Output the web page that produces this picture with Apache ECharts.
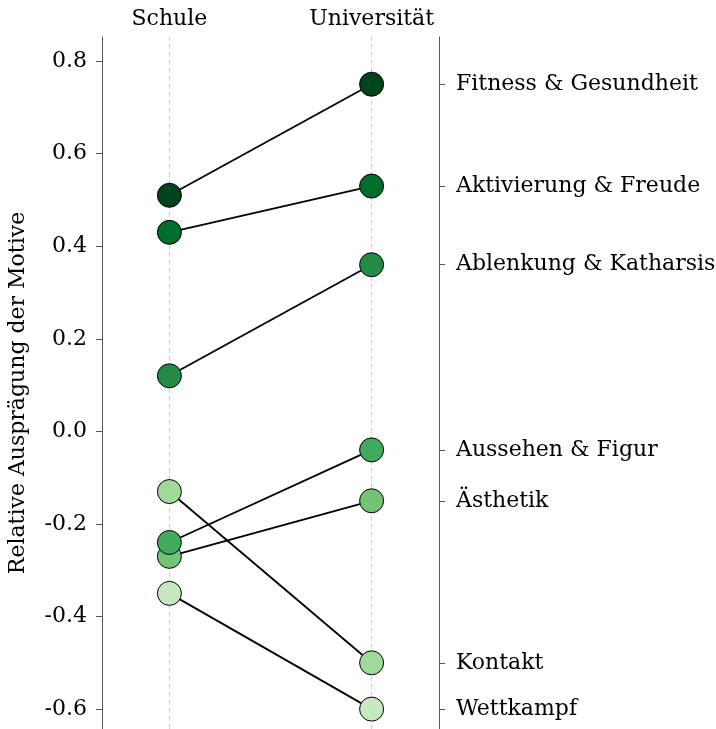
<!DOCTYPE html>
<html>
<head>
<meta charset="utf-8">
<script src="https://cdn.jsdelivr.net/npm/echarts@6/dist/echarts.min.js"></script>
<style>html,body{margin:0;padding:0;background:#fff}#c{width:716px;height:729px}</style>
</head>
<body>
<div id="c"></div>
<script>
const categories = ['Schule', 'Universität'];
const motives = ['Fitness & Gesundheit', 'Aktivierung & Freude', 'Ablenkung & Katharsis', 'Aussehen & Figur', 'Ästhetik', 'Kontakt', 'Wettkampf'];
const schuleValues = [0.51, 0.43, 0.12, -0.24, -0.27, -0.13, -0.35];
const uniValues = [0.75, 0.53, 0.36, -0.04, -0.15, -0.50, -0.60];
const yTicks = [-0.6, -0.4, -0.2, 0.0, 0.2, 0.4, 0.6, 0.8];
const yAxisTitle = 'Relative Ausprägung der Motive';

const palette = ['#00441b', '#006d2c', '#238b45', '#41ab5d', '#74c476', '#a1d99b', '#c7e9c0'];
const FONT = 'DejaVu Serif';
const FS = 22;

const chart = echarts.init(document.getElementById('c'), null, {renderer: 'canvas'});

const series = [];
for (let i = motives.length - 1; i >= 0; i--) {
  series.push({
    type: 'line',
    name: motives[i],
    data: [[0, schuleValues[i]], [1, uniValues[i]]],
    symbol: 'circle',
    symbolSize: 24,
    itemStyle: {color: palette[i], borderColor: '#000', borderWidth: 1},
    lineStyle: {color: '#000', width: 1.8},
    z: 3,
    animation: false
  });
}
series.push({
  type: 'line',
  data: [],
  z: 1,
  silent: true,
  markLine: {
    silent: true,
    z: 1,
    symbol: ['none', 'none'],
    label: {show: false},
    lineStyle: {color: '#cccccc', type: [5, 3], width: 1},
    data: categories.map((c, i) => ({xAxis: i})),
    animation: false
  }
});

const axisLineStyle = {color: '#555', width: 1};

chart.setOption({
  animation: false,
  grid: {left: 102, right: 277, top: 37, bottom: 0, outerBoundsMode: 'none', containLabel: false},
  xAxis: {
    type: 'value',
    position: 'top',
    min: -1/3, max: 4/3,
    axisLine: {show: false},
    axisTick: {show: false},
    splitLine: {show: false},
    axisLabel: {
      customValues: [0, 1],
      formatter: v => categories[Math.round(v)],
      fontFamily: FONT, fontSize: FS, color: '#000', margin: 7
    }
  },
  yAxis: [{
    type: 'value',
    position: 'left',
    min: -0.643, max: 0.852,
    axisLine: {show: true, onZero: false, lineStyle: axisLineStyle},
    axisTick: {show: true, customValues: yTicks, length: 6, lineStyle: axisLineStyle},
    splitLine: {show: false},
    axisLabel: {
      customValues: yTicks,
      formatter: v => v.toFixed(1),
      fontFamily: FONT, fontSize: FS, color: '#000', margin: 15
    }
  }, {
    type: 'value',
    position: 'right',
    min: -0.643, max: 0.852,
    axisLine: {show: true, onZero: false, lineStyle: axisLineStyle},
    axisTick: {show: true, customValues: uniValues, length: 6, lineStyle: axisLineStyle},
    splitLine: {show: false},
    axisLabel: {
      customValues: uniValues,
      formatter: v => {
        let best = 0;
        for (let i = 0; i < uniValues.length; i++) {
          if (Math.abs(uniValues[i] - v) < Math.abs(uniValues[best] - v)) best = i;
        }
        return motives[best];
      },
      fontFamily: FONT, fontSize: FS, color: '#000', margin: 17
    }
  }],
  graphic: [{
    type: 'text',
    x: 18, y: 393,
    rotation: Math.PI / 2,
    style: {
      text: yAxisTitle,
      fontFamily: FONT, fontSize: FS, fill: '#000',
      align: 'center', verticalAlign: 'middle'
    }
  }],
  series: series
});
</script>
</body>
</html>
